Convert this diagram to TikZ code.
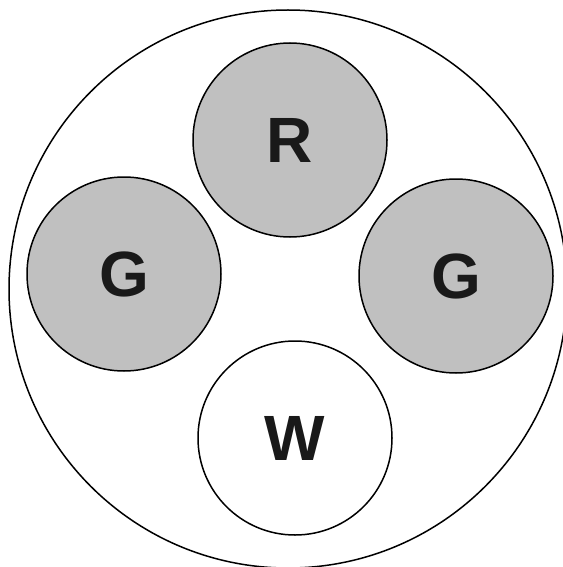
\documentclass[tikz,border=0pt]{standalone}
\usepackage{fontspec}
\setmainfont{Liberation Sans}
\usepackage{tikz}
\definecolor{coregray}{HTML}{C0C0C0}

\begin{document}
\begin{tikzpicture}[
  x=1pt, y=-1pt,
  font=\fontsize{64}{64}\selectfont\bfseries,
  core/.style={circle, draw, line width=1.5pt, minimum size=194pt, inner sep=0pt, text=black!90},
  filled/.style={core, fill=coregray}
]
  \useasboundingbox (0,0) rectangle (562,567);
  \fill[white] (0,0) rectangle (562,567);
  \node[circle, draw, line width=1.5pt, minimum size=558pt, inner sep=0pt] (jacket) at (288,289) {};

  \node[filled] (r) at (290,140) {R};
  \node[filled] (gl) at (124,274) {G};
  \node[filled] (gr) at (456,276) {G};
  \node[core] (w) at (295,438) {W};
\end{tikzpicture}
\end{document}
